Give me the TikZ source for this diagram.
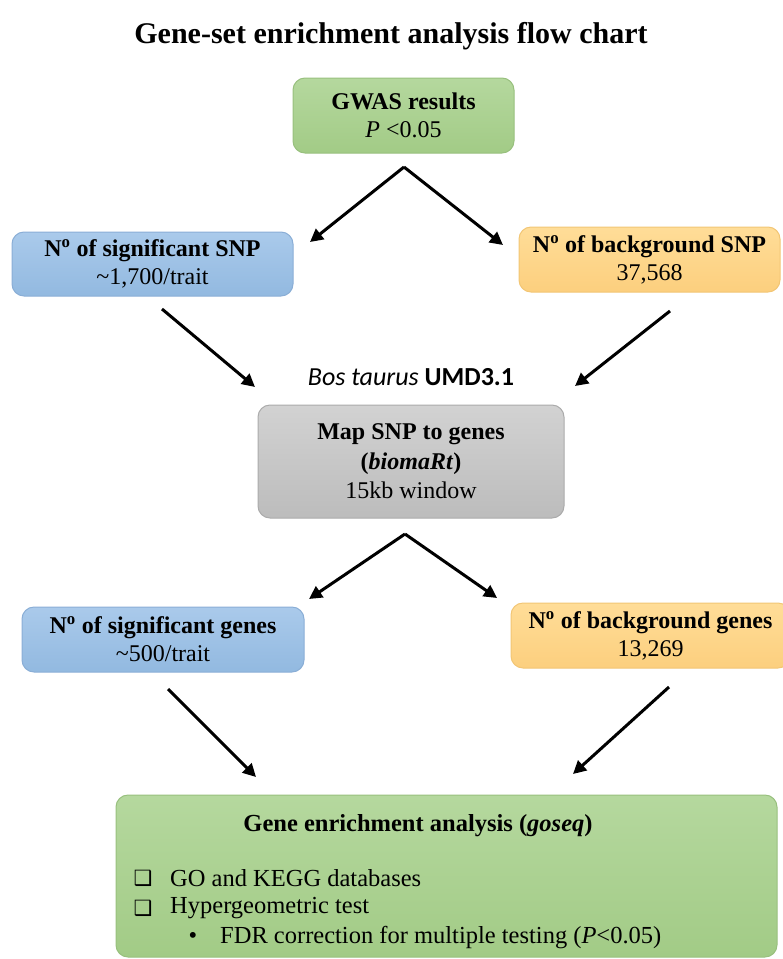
\documentclass[tikz,border=0pt]{standalone}
\usepackage{fontspec}
\setmainfont{Liberation Serif}
\newfontfamily\calib{Carlito}
\newfontfamily\djv{DejaVu Sans}
\usetikzlibrary{arrows.meta}
\definecolor{gtop}{HTML}{B5D89E}
\definecolor{gbot}{HTML}{A2CB86}
\definecolor{gline}{HTML}{98C07E}
\definecolor{btop}{HTML}{AACAEB}
\definecolor{bbot}{HTML}{92B9E0}
\definecolor{bline}{HTML}{8AAED6}
\definecolor{otop}{HTML}{FFDD98}
\definecolor{obot}{HTML}{FCCF7E}
\definecolor{oline}{HTML}{F2C675}
\definecolor{ytop}{HTML}{D2D2D2}
\definecolor{ybot}{HTML}{BCBCBC}
\definecolor{yline}{HTML}{ABABAB}
\begin{document}
\begin{tikzpicture}[x=1pt,y=1pt,
  box/.style={rounded corners=12pt, line width=1pt, align=center, inner sep=0pt,
              font=\fontsize{24}{28}\selectfont},
  greenbox/.style={box, draw=gline, top color=gtop, bottom color=gbot},
  bluebox/.style={box, draw=bline, top color=btop, bottom color=bbot},
  orangebox/.style={box, draw=oline, top color=otop, bottom color=obot},
  graybox/.style={box, draw=yline, top color=ytop, bottom color=ybot},
  txt/.style={inner sep=0pt, font=\fontsize{24.5}{28}\selectfont},
  arr/.style={line width=3pt, -{Triangle[length=13pt,width=13pt]}}]
\useasboundingbox (0,0) rectangle (783,-959);

% title
\node[inner sep=0pt, font=\fontsize{30}{34}\selectfont\bfseries] (title) at (391,-36)
  {Gene-set enrichment analysis flow chart};

% boxes
\node[greenbox, minimum width=221pt, minimum height=75pt] (gwas) at (403.5,-115.5)
  {\textbf{GWAS results}\\ \textit{P} <0.05};
\node[bluebox, minimum width=281pt, minimum height=64pt] (sigsnp) at (152.5,-264)
  {\textbf{N\textsuperscript{o} of significant SNP}\\ \textasciitilde1,700/trait};
\node[orangebox, minimum width=261pt, minimum height=65pt] (bgsnp) at (649.5,-259.5)
  {\textbf{N\textsuperscript{o} of background SNP}\\ 37,568};
\node[inner sep=0pt, font=\fontsize{26}{30}\selectfont\calib] (bos) at (411,-377)
  {\textit{Bos taurus} \textbf{UMD3.1}};
\node[graybox, minimum width=306pt, minimum height=113pt,
      font=\fontsize{24}{29.5}\selectfont] (map) at (411,-461.5)
  {\textbf{Map SNP to genes}\\ \textbf{(\textit{biomaRt})}\\ 15kb window};
\node[bluebox, minimum width=282pt, minimum height=65pt] (siggene) at (163,-639.5)
  {\textbf{N\textsuperscript{o} of significant genes}\\ \textasciitilde500/trait};
\node[orangebox, minimum width=279pt, minimum height=65pt] (bggene) at (650.5,-635.5)
  {\textbf{N\textsuperscript{o} of background genes}\\ 13,269};
\node[greenbox, minimum width=661pt, minimum height=162pt] (enrich) at (446.5,-876) {};

% contents of the bottom box
\node[txt, font=\fontsize{24.5}{28}\selectfont\bfseries] (enrtitle) at (418,-826)
  {Gene enrichment analysis (\textit{goseq})};
\node[txt, font=\fontsize{21}{24}\selectfont\djv] (cb1) at (143,-878) {❑};
\node[txt, font=\fontsize{21}{24}\selectfont\djv] (cb2) at (143,-908) {❑};
\node[txt, anchor=west] (go) at (170,-878) {GO and KEGG databases};
\node[txt, anchor=west] (hyp) at (170,-908) {Hypergeometric test};
\node[txt] (dot) at (193,-938) {•};
\node[txt, anchor=west] (fdr) at (220,-938) {FDR correction for multiple testing (\textit{P}<0.05)};

% arrow end points
\coordinate (a1) at (404,-167);
\coordinate (a1l) at (310,-242);
\coordinate (a1r) at (503,-245);
\coordinate (a2ls) at (162,-309);
\coordinate (a2le) at (255,-387);
\coordinate (a2rs) at (670,-311);
\coordinate (a2re) at (575,-386);
\coordinate (a3) at (405,-534);
\coordinate (a3l) at (309,-599);
\coordinate (a3r) at (497,-598);
\coordinate (a4ls) at (168,-689);
\coordinate (a4le) at (256,-777);
\coordinate (a4rs) at (669,-687);
\coordinate (a4re) at (573,-774);

\draw[arr] (a1) -- (a1l);
\draw[arr] (a1) -- (a1r);
\draw[arr] (a2ls) -- (a2le);
\draw[arr] (a2rs) -- (a2re);
\draw[arr] (a3) -- (a3l);
\draw[arr] (a3) -- (a3r);
\draw[arr] (a4ls) -- (a4le);
\draw[arr] (a4rs) -- (a4re);
\end{tikzpicture}
\end{document}
